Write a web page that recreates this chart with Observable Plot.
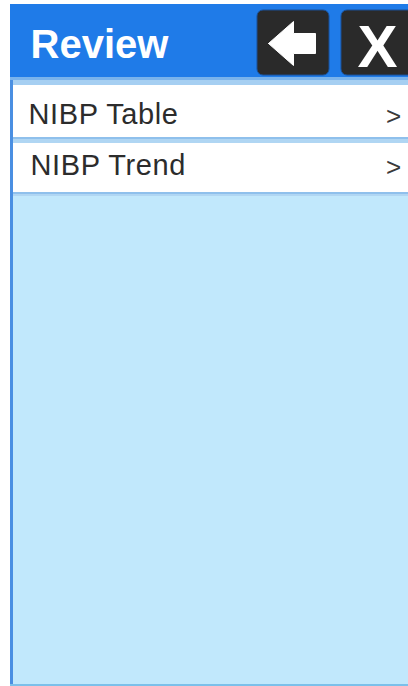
<!DOCTYPE html>
<html>
<head>
<meta charset="utf-8">
<script src="https://cdn.jsdelivr.net/npm/d3@7"></script>
<script src="https://cdn.jsdelivr.net/npm/@observablehq/plot@0.6"></script>
<style>
html, body { margin: 0; padding: 0; background: #ffffff; }
#chart svg { display: block; }
</style>
</head>
<body>
<div id="chart"></div>
<script>
// Content
const screenTitle = "Review";
const menuItems = ["NIBP Table", "NIBP Trend"];
const menuChevron = ">";
const buttons = ["back", "close"];

// Layout (pixel space of the 408x686 screen)
const W = 408, H = 686;
const panelX0 = 10, panelTop = 4, headerBottom = 77;
const rowTops = [85, 143];
const rowBottoms = [137, 192];
const textBaselines = [123, 174];
const textX = [28, 30];

const rects = [];
// panel background
rects.push({x1: panelX0, x2: W, y1: panelTop, y2: H, fill: "#c1e8fc"});
// left border
rects.push({x1: panelX0, x2: panelX0 + 3, y1: panelTop, y2: H, fill: "#4a8fe2"});
// header
rects.push({x1: panelX0, x2: W, y1: panelTop, y2: headerBottom, fill: "#1f7be8"});
// strip below header
rects.push({x1: panelX0, x2: W, y1: headerBottom, y2: 80, fill: "#79b3ec"});
rects.push({x1: panelX0 + 3, x2: W, y1: 80, y2: rowTops[0], fill: "#a6cff2"});
// rows and separators
menuItems.forEach((m, i) => {
  const t = rowTops[i], b = rowBottoms[i];
  rects.push({x1: panelX0 + 3, x2: W, y1: t, y2: b, fill: "#ffffff"});
  rects.push({x1: panelX0 + 3, x2: W, y1: b, y2: b + 2, fill: "#8fc0ec"});
  rects.push({x1: panelX0 + 3, x2: W, y1: b + 2, y2: b + (i === 0 ? 6 : 4), fill: "#b0d6f3"});
});
// bottom border
rects.push({x1: panelX0, x2: W, y1: H - 2, y2: H, fill: "#7cc0ea"});

const btnRects = [
  {x1: 257, x2: 329, y1: 10, y2: 75},
  {x1: 341, x2: 420, y1: 10, y2: 75}
];

// back arrow polygon relative to first button
const bx = 257, by = 10;
const arrow = [
  [11, 33], [36, 11], [36, 23], [58, 23], [58, 43], [36, 43], [36, 55], [11, 33]
].map(([dx, dy]) => ({x: bx + dx, y: by + dy}));

const texts = [
  {x: 30, y: 57, text: screenTitle, size: 40, weight: 700, fill: "#ffffff", anchor: "start"},
  {x: 377, y: 66, text: "X", size: 60, weight: 700, fill: "#ffffff", anchor: "middle"}
];
menuItems.forEach((m, i) => {
  const b = textBaselines[i];
  texts.push({x: textX[i], y: b, text: m, size: 29, weight: 400, fill: "#2c2c2c", anchor: "start", item: true});
  texts.push({x: 393, y: b + 1, text: menuChevron, size: 26, weight: 400, fill: "#3a3a3a", anchor: "middle"});
});

const plot = Plot.plot({
  width: W,
  height: H,
  margin: 0,
  x: {type: "linear", domain: [0, W], range: [0, W], axis: null},
  y: {type: "linear", domain: [0, H], range: [0, H], axis: null},
  style: {background: "#ffffff", fontFamily: "'Liberation Sans', Arial, sans-serif"},
  marks: [
    Plot.rect(rects, {x1: "x1", x2: "x2", y1: "y1", y2: "y2", fill: d => d.fill}),
    Plot.rect(btnRects, {x1: "x1", x2: "x2", y1: "y1", y2: "y2", fill: "#2a2a2a", rx: 6, stroke: "#1a4f94", strokeWidth: 1}),
    Plot.line(arrow, {x: "x", y: "y", fill: "#ffffff", stroke: "#ffffff", strokeWidth: 1, curve: "linear"}),
    ...texts.map(t => Plot.text([t], {
      x: "x", y: "y", text: "text", fill: t.fill, fontSize: t.size, fontWeight: t.weight,
      textAnchor: t.anchor, lineAnchor: "bottom", fontFamily: "Liberation Sans"
    }))
  ]
});
// slightly wider tracking for the menu labels, as in the reference
d3.select(plot).selectAll("text")
  .filter(function() { return menuItems.includes(this.textContent); })
  .attr("letter-spacing", "0.6px");
document.getElementById("chart").appendChild(plot);
</script>
</body>
</html>
